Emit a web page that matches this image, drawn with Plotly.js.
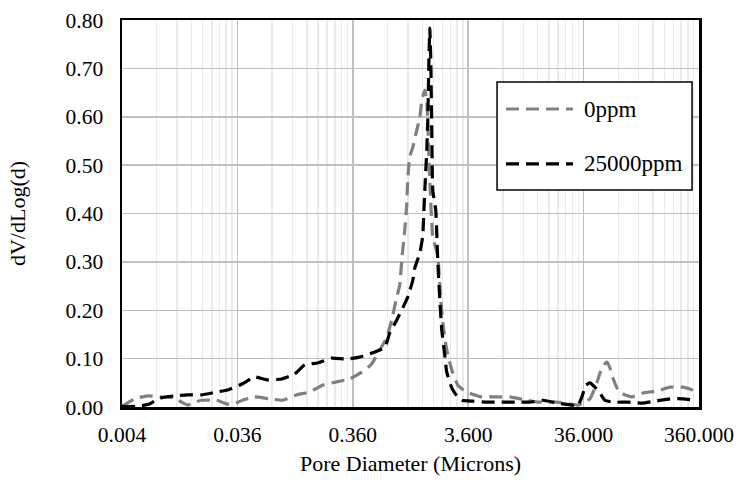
<!DOCTYPE html>
<html>
<head>
<meta charset="utf-8">
<script src="https://cdn.plot.ly/plotly-3.0.1.min.js"></script>
<style>
  html, body { margin: 0; padding: 0; background: #fff; }
  #chart { width: 738px; height: 485px; }
</style>
</head>
<body>
<div id="chart"></div>
<script>
// Pore size distribution: dV/dLog(d) versus pore diameter (microns)
const diam0 = [0.0036, 0.00402, 0.00462, 0.00599, 0.00761, 0.0103, 0.0118, 0.0133, 0.0153, 0.0176,
  0.0238, 0.0296, 0.0347, 0.0399, 0.0507, 0.0685, 0.0888, 0.117, 0.152, 0.197,
  0.261, 0.338, 0.430, 0.525, 0.616, 0.708, 0.782, 0.865, 0.919, 0.956,
  1.015, 1.055, 1.077, 1.120, 1.192, 1.289, 1.369, 1.427, 1.515, 1.575,
  1.672, 1.776, 1.960, 2.082, 2.21, 2.346, 2.60, 2.93, 3.36, 3.87,
  4.72, 6.37, 8.26, 11.6, 15.0, 21.1, 27.4, 32.1, 35.5, 40.9,
  46.9, 49.8, 54.0, 57.3, 60.9, 64.6, 71.5, 82.1, 94.5, 117.6,
  155.7, 202, 261, 301, 360];
const dv0 = [0.002, 0.008, 0.017, 0.023, 0.021, 0.019, 0.010, 0.004, 0.010, 0.014,
  0.014, 0.006, 0.008, 0.014, 0.021, 0.017, 0.014, 0.025, 0.031, 0.045,
  0.052, 0.058, 0.072, 0.089, 0.118, 0.143, 0.180, 0.227, 0.252, 0.304,
  0.366, 0.417, 0.469, 0.517, 0.537, 0.572, 0.597, 0.634, 0.655, 0.634,
  0.469, 0.351, 0.314, 0.221, 0.159, 0.118, 0.076, 0.045, 0.033, 0.027,
  0.021, 0.021, 0.021, 0.014, 0.010, 0.010, 0.006, 0.004, 0.008, 0.017,
  0.050, 0.070, 0.087, 0.093, 0.081, 0.060, 0.035, 0.025, 0.021, 0.029,
  0.033, 0.041, 0.041, 0.037, 0.029];

const diam25k = [0.0036, 0.0051, 0.00624, 0.00703, 0.00792, 0.0103, 0.0133, 0.0176, 0.0238, 0.0296,
  0.0399, 0.0507, 0.0658, 0.0872, 0.1128, 0.138, 0.179, 0.236, 0.319, 0.413,
  0.536, 0.616, 0.681, 0.752, 0.865, 0.976, 1.077, 1.192, 1.240, 1.369,
  1.453, 1.484, 1.515, 1.575, 1.608, 1.638, 1.672, 1.707, 1.739, 1.776,
  1.885, 1.925, 1.960, 2.043, 2.125, 2.256, 2.346, 2.60, 2.87, 3.17,
  3.95, 5.22, 7.04, 9.13, 12.3, 16.0, 21.5, 28.5, 32.1, 34.8,
  37.7, 40.9, 45.1, 49.8, 55.1, 64.6, 87.2, 115, 149, 202,
  261, 332];
const dv25k = [0.001, 0.002, 0.006, 0.014, 0.019, 0.023, 0.025, 0.025, 0.031, 0.035,
  0.048, 0.062, 0.056, 0.058, 0.068, 0.087, 0.091, 0.101, 0.099, 0.103,
  0.112, 0.118, 0.122, 0.153, 0.180, 0.205, 0.227, 0.262, 0.287, 0.318,
  0.353, 0.401, 0.448, 0.531, 0.593, 0.696, 0.783, 0.717, 0.572, 0.448,
  0.407, 0.355, 0.304, 0.221, 0.159, 0.107, 0.072, 0.039, 0.023, 0.014,
  0.012, 0.010, 0.010, 0.010, 0.010, 0.014, 0.008, 0.004, 0.002, 0.021,
  0.045, 0.050, 0.041, 0.029, 0.014, 0.010, 0.010, 0.008, 0.012, 0.017,
  0.017, 0.014];

const seriesNames = ['0ppm', '25000ppm'];
const seriesColors = ['#808080', '#000000'];
const xTickVals = [0.0036, 0.036, 0.36, 3.6, 36, 360];
const xTickText = ['0.004', '0.036', '0.360', '3.600', '36.000', '360.000'];

// minor gridlines at 2..9 times each labelled decade
const minorVals = [];
xTickVals.slice(0, -1).forEach(v => { for (let m = 2; m <= 9; m++) minorVals.push(v * m); });

const serif = 'Liberation Serif, "Times New Roman", serif';
const dashStyle = '13px,7px';

const traces = [
  { x: diam0, y: dv0, name: seriesNames[0], type: 'scatter', mode: 'lines',
    line: { color: seriesColors[0], width: 3.2, dash: dashStyle, shape: 'spline', smoothing: 0.4 } },
  { x: diam25k, y: dv25k, name: seriesNames[1], type: 'scatter', mode: 'lines',
    line: { color: seriesColors[1], width: 3.2, dash: dashStyle, shape: 'spline', smoothing: 0.4 } }
];

// boxed key in the upper right of the plot area, with long dashed samples
const keyBox = { x0: 0.650, x1: 0.988, y0: 0.561, y1: 0.840 };
const keyRows = [0.770, 0.628];
const shapes = [
  { type: 'rect', xref: 'paper', yref: 'paper', x0: keyBox.x0, x1: keyBox.x1, y0: keyBox.y0, y1: keyBox.y1,
    line: { color: '#000', width: 1.5 }, fillcolor: '#ffffff', layer: 'above' }
];
const annotations = [];
seriesNames.forEach((name, i) => {
  shapes.push({ type: 'line', xref: 'paper', yref: 'paper', x0: 0.6655, x1: 0.7816, y0: keyRows[i], y1: keyRows[i],
    line: { color: seriesColors[i], width: 3.2, dash: dashStyle }, layer: 'above' });
  annotations.push({ xref: 'paper', yref: 'paper', x: 0.797, y: keyRows[i], xanchor: 'left', yanchor: 'middle',
    text: name, showarrow: false, font: { family: serif, size: 23, color: '#000' } });
});

const layout = {
  width: 738, height: 485,
  margin: { l: 122, r: 39, t: 20, b: 78 },
  paper_bgcolor: '#ffffff', plot_bgcolor: '#ffffff',
  font: { family: serif, size: 22, color: '#000' },
  showlegend: false,
  shapes: shapes,
  annotations: annotations,
  xaxis: {
    type: 'log',
    range: [Math.log10(0.0036), Math.log10(360)],
    tickmode: 'array', tickvals: xTickVals, ticktext: xTickText,
    showgrid: true, gridcolor: '#c0c0c0', gridwidth: 1.5,
    minor: { tickmode: 'array', tickvals: minorVals, showgrid: true, gridcolor: '#ebebeb', gridwidth: 1.5, ticklen: 0 },
    showline: true, linecolor: '#000', linewidth: 2.5, mirror: true,
    ticks: '', ticklabelstandoff: 7,
    zeroline: false,
    tickfont: { family: serif, size: 21.5 },
    title: { text: 'Pore Diameter (Microns)', font: { family: serif, size: 22 }, standoff: 10 }
  },
  yaxis: {
    range: [0, 0.8], dtick: 0.1, tick0: 0, tickformat: '.2f',
    showgrid: true, gridcolor: '#c0c0c0', gridwidth: 1.5,
    showline: true, linecolor: '#000', linewidth: 2.5, mirror: true,
    ticks: '', ticklabelstandoff: 12,
    zeroline: false,
    tickfont: { family: serif, size: 21.5 },
    title: { text: 'dV/dLog(d)', font: { family: serif, size: 22 }, standoff: 34 }
  }
};

Plotly.newPlot('chart', traces, layout, { displayModeBar: false, staticPlot: true });
</script>
</body>
</html>
